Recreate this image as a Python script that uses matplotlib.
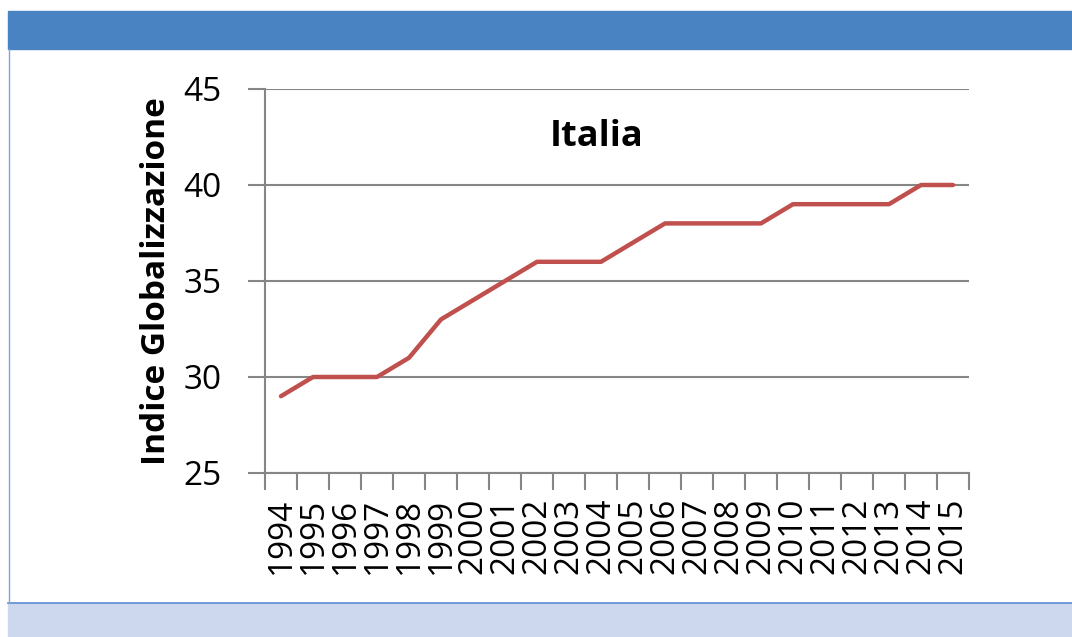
import matplotlib.pyplot as plt
from matplotlib.patches import Rectangle
from matplotlib.lines import Line2D

plt.rcParams['font.family'] = ['Open Sans', 'DejaVu Sans']

years = [str(y) for y in range(1994, 2016)]
indice = [29, 30, 30, 30, 31, 33, 34, 35, 36, 36, 36, 37, 38, 38, 38, 38,
          39, 39, 39, 39, 40, 40]
titolo = "Italia"
ylab = "Indice Globalizzazione"

W, H = 1072, 637
fig = plt.figure(figsize=(W / 100, H / 100), dpi=100)

# slide-like frame: blue header, white body, lavender footer
fig.patches.append(Rectangle((8 / W, 1 - 49 / H), 1 - 8 / W, 38 / H,
                             transform=fig.transFigure, color='#4A83C2', zorder=0))
fig.patches.append(Rectangle((8 / W, 0), 1 - 8 / W, 34 / H,
                             transform=fig.transFigure, color='#CDD8EE', zorder=0))
fig.lines.append(Line2D([8 / W, 1], [34 / H, 34 / H], transform=fig.transFigure,
                        color='#5B8FD0', lw=1.2))
fig.lines.append(Line2D([8.5 / W, 8.5 / W], [34 / H, 1 - 49 / H],
                        transform=fig.transFigure, color='#7FA6D8', lw=1.0))

ax = fig.add_axes([265 / W, 1 - 473 / H, 704 / W, 384 / H])
x = list(range(len(years)))
ax.plot(x, indice, color='#C0504D', lw=3.2, solid_joinstyle='round',
        solid_capstyle='round', zorder=3)

ax.set_xlim(-0.5, len(years) - 0.5)
ax.set_ylim(25, 45)
ax.set_yticks([25, 30, 35, 40, 45])
ax.yaxis.grid(True, color='#868686', lw=1.5)
ax.set_axisbelow(True)

ax.set_xticks(x)
ax.set_xticklabels(years, rotation=90, fontsize=24)
ax.set_xticks([i - 0.5 for i in range(len(years) + 1)], minor=True)
ax.tick_params(axis='x', which='major', length=0, pad=18)
ax.tick_params(axis='x', which='minor', length=12, width=1.5, color='#868686',
               direction='out')
ax.tick_params(axis='y', length=12, width=1.5, color='#868686', labelsize=24,
               pad=19)

for s in ['top', 'right']:
    ax.spines[s].set_visible(False)
for s in ['left', 'bottom']:
    ax.spines[s].set_color('#868686')
    ax.spines[s].set_linewidth(1.5)

ax.set_ylabel(ylab, fontsize=24, fontweight='bold', labelpad=8)
ax.text(0.4716, 0.875, titolo, transform=ax.transAxes, ha='center', va='center',
        fontsize=26, fontweight='bold')

fig.savefig('out.png', dpi=100)
